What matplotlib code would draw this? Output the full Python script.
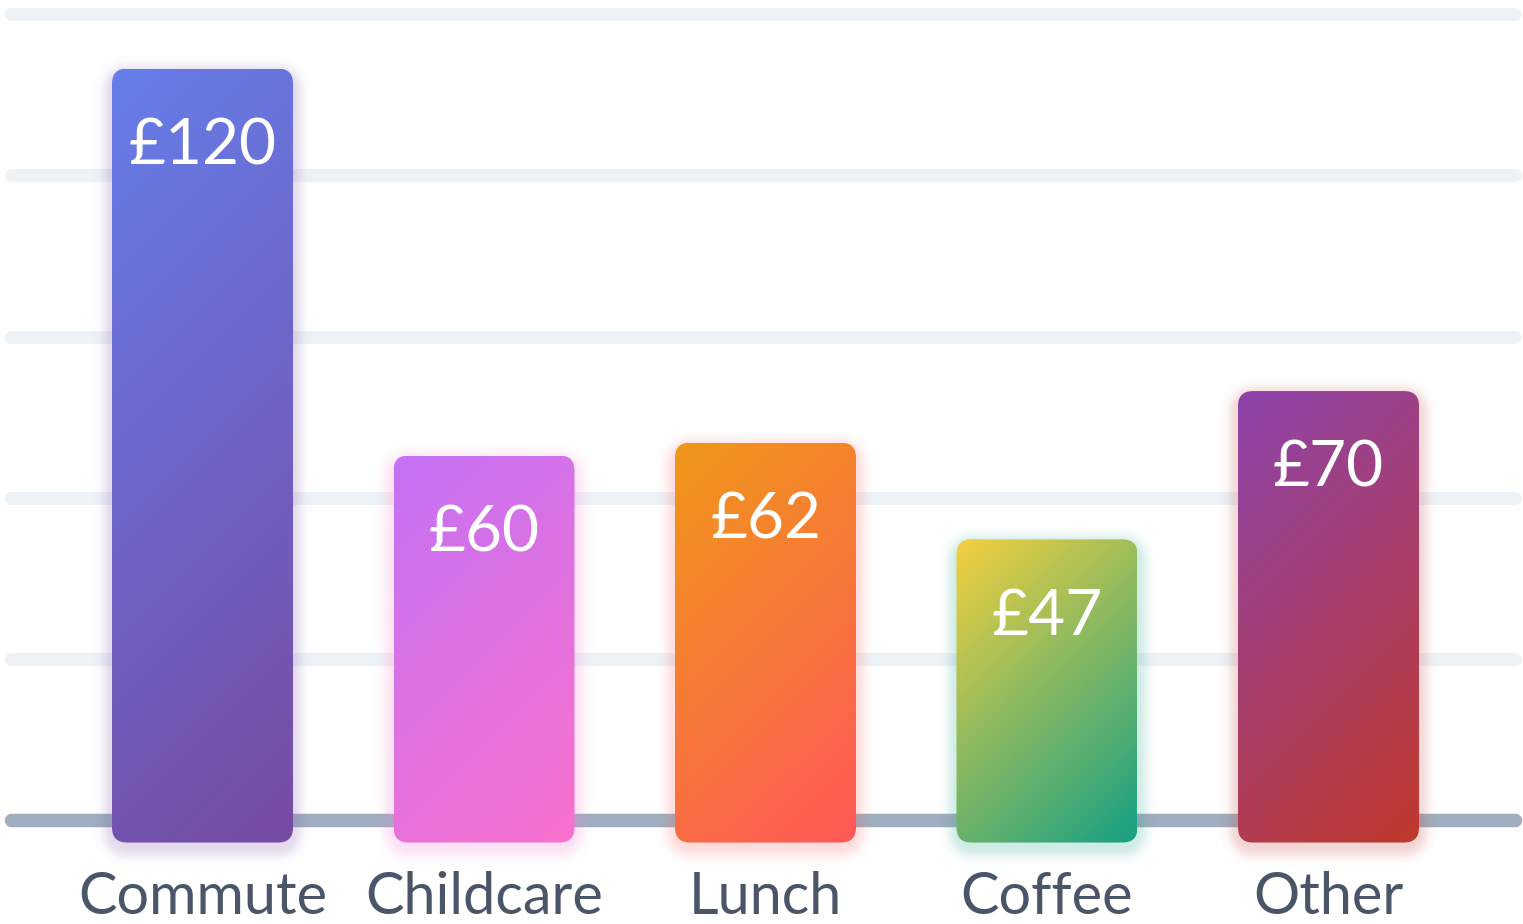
import numpy as np
import matplotlib
matplotlib.use("Agg")
import matplotlib.pyplot as plt
from matplotlib.patches import FancyBboxPatch
from matplotlib.colors import to_rgb

# ---------------- data ----------------
categories = ["Commute", "Childcare", "Lunch", "Coffee", "Other"]
values = [120, 60, 62, 47, 70]
value_labels = ["£120", "£60", "£62", "£47", "£70"]
grad_start = ["#667EEA", "#C471F5", "#F09819", "#F4D03F", "#8E44AD"]
grad_end = ["#764BA2", "#FA71CD", "#FF5858", "#16A085", "#C0392B"]
grid_values = [0, 25, 50, 75, 100, 125]

# ---------------- layout ----------------
W, H, DPI = 1523, 924, 100
PX_X = 281.5          # pixels per category step
PX_Y = 6.45           # pixels per value unit
X0_PX = 202.5         # pixel x of first category
BASE_PX = 924 - 820.3 # pixel y (from bottom) of the zero gridline
BAR_W = 181 / PX_X
BAR_BOTTOM = -3.45
RADIUS_PX = 15
FONT = "Lato"

fig = plt.figure(figsize=(W / DPI, H / DPI), dpi=DPI)
ax = fig.add_axes([0, 0, 1, 1])
ax.set_axis_off()
xlim = (-X0_PX / PX_X, (W - X0_PX) / PX_X)
ylim = (-BASE_PX / PX_Y, (H - BASE_PX) / PX_Y)

# gridlines
gx0 = xlim[0] + 10.5 / PX_X
gx1 = xlim[0] + 1514.5 / PX_X
for g in grid_values:
    if g == 0:
        ax.plot([gx0, gx1], [g, g], color="#A0AEC0", lw=13.5 * 0.72,
                solid_capstyle="round", zorder=1.5)
    else:
        ax.plot([gx0, gx1], [g, g], color="#EDF2F7", lw=13 * 0.72,
                solid_capstyle="round", zorder=1)


def rounded_sdf(X, Y, hw, hh, r):
    qx = np.abs(X) - (hw - r)
    qy = np.abs(Y) - (hh - r)
    outside = np.hypot(np.maximum(qx, 0), np.maximum(qy, 0))
    inside = np.minimum(np.maximum(qx, qy), 0)
    return outside + inside - r


for i, (v, c0, c1) in enumerate(zip(values, grad_start, grad_end)):
    x0 = i - BAR_W / 2
    y0 = BAR_BOTTOM
    w_px = BAR_W * PX_X
    h_px = v * PX_Y

    # shadow (soft glow)
    m = 40
    s_w = int(round(w_px + 2 * m))
    s_h = int(round(h_px + 2 * m))
    xs = np.linspace(-w_px / 2 - m, w_px / 2 + m, s_w)
    ys = np.linspace(-h_px / 2 - m, h_px / 2 + m, s_h)
    X, Y = np.meshgrid(xs, ys)
    dy = 5  # shadow shifted down (pixels)
    d = rounded_sdf(X, Y - dy, w_px / 2, h_px / 2, RADIUS_PX)
    alpha = 0.2 * np.exp(-(np.maximum(d, 0) / 10.0) ** 2)
    rgb = np.array(to_rgb(c1))
    shadow = np.zeros((s_h, s_w, 4))
    shadow[..., :3] = rgb
    shadow[..., 3] = alpha
    ax.imshow(shadow, extent=[x0 - m / PX_X, x0 + BAR_W + m / PX_X,
                              y0 - m / PX_Y, y0 + v + m / PX_Y],
              origin="upper", aspect="auto", interpolation="bilinear", zorder=2.5)

    # gradient fill (CSS 135deg)
    gw = int(round(w_px))
    gh = int(round(h_px))
    u = np.linspace(0, w_px, gw)
    vv = np.linspace(0, h_px, gh)
    U, V = np.meshgrid(u, vv)
    t = ((U - w_px / 2) + (V - h_px / 2)) / (w_px + h_px) + 0.5
    t = np.clip(t, 0, 1)[..., None]
    img = (1 - t) * np.array(to_rgb(c0)) + t * np.array(to_rgb(c1))
    patch = FancyBboxPatch((x0, y0), BAR_W, v,
                           boxstyle=f"round,pad=0,rounding_size={RADIUS_PX / PX_X}",
                           mutation_aspect=PX_X / PX_Y,
                           fc="none", ec="none", zorder=3)
    ax.add_patch(patch)
    im = ax.imshow(img, extent=[x0, x0 + BAR_W, y0, y0 + v], origin="upper",
                   aspect="auto", interpolation="bilinear", zorder=3)
    im.set_clip_path(patch)

    # value label
    ax.annotate(value_labels[i], xy=(i, y0 + v), xytext=(0, -95.5 * 0.72),
                textcoords="offset points", ha="center", va="baseline",
                color="white", fontsize=46, family=FONT, zorder=5)
    # category label
    ax.annotate(categories[i], xy=(i, y0), xytext=(0, -71 * 0.72),
                textcoords="offset points", ha="center", va="baseline",
                color="#4A5568", fontsize=41.5, family=FONT, zorder=5)

ax.set_xlim(*xlim)
ax.set_ylim(*ylim)
fig.savefig("out.png", dpi=DPI, facecolor="white")
